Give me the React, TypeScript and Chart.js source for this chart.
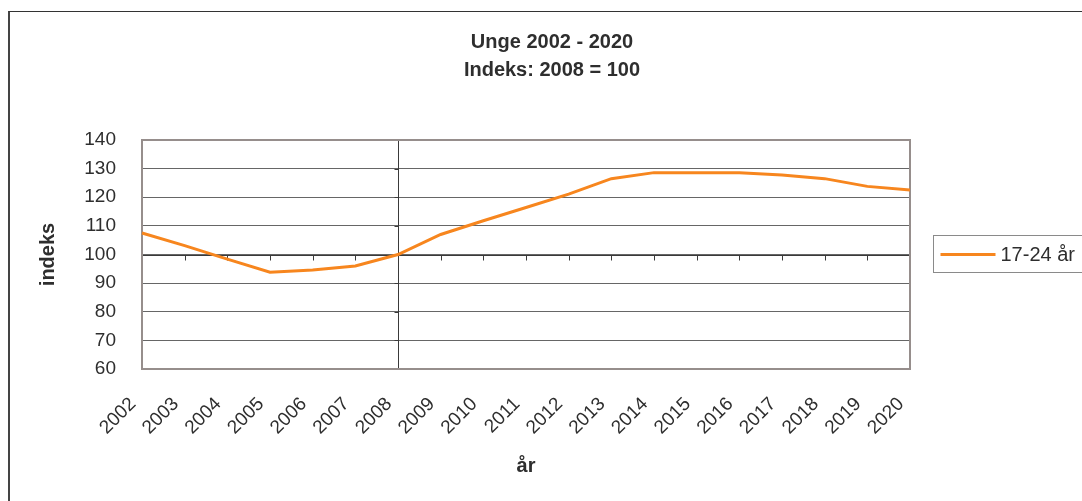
import React, { useEffect, useRef } from 'react';
import { Chart, registerables } from 'chart.js';

Chart.register(...registerables);

const years = ['2002', '2003', '2004', '2005', '2006', '2007', '2008', '2009', '2010', '2011', '2012', '2013', '2014', '2015', '2016', '2017', '2018', '2019', '2020'];
const indexValues = [107.5, 103.1, 98.4, 93.8, 94.6, 96.0, 100, 107.0, 111.8, 116.4, 121.1, 126.5, 128.6, 128.6, 128.6, 127.8, 126.5, 123.8, 122.5];
const seriesLabel = '17-24 år';
const titleLines = ['Unge 2002 - 2020', 'Indeks: 2008 = 100'];
const yAxisTitle = 'indeks';
const xAxisTitle = 'år';
const yMin = 60;
const yMax = 140;
const yStep = 10;
const baseYear = '2008';
const baseValue = 100;

const FONT = '"Liberation Sans", Arial, Helvetica, sans-serif';
const ORANGE = '#f7861e';
const TEXT = '#2e2e2e';

const excelFrame = {
  id: 'excelFrame',
  beforeDatasetsDraw(chart: any) {
    const { ctx, chartArea: a, scales } = chart;
    const x = scales.x;
    const y = scales.y;
    ctx.save();
    const y100 = Math.round(y.getPixelForValue(baseValue)) + 0.5;
    const xBase = Math.round(x.getPixelForValue(years.indexOf(baseYear))) + 0.5;
    ctx.strokeStyle = '#3a3a3a';
    ctx.lineWidth = 1;
    ctx.beginPath();
    ctx.moveTo(a.left, y100);
    ctx.lineTo(a.right, y100);
    for (let i = 0; i < years.length; i++) {
      const px = Math.round(x.getPixelForValue(i)) + 0.5;
      ctx.moveTo(px, y100);
      ctx.lineTo(px, y100 + 5);
    }
    ctx.moveTo(xBase, a.top);
    ctx.lineTo(xBase, a.bottom);
    y.ticks.forEach((t: any) => {
      const py = Math.round(y.getPixelForValue(t.value)) + 0.5;
      ctx.moveTo(xBase - 4, py);
      ctx.lineTo(xBase, py);
    });
    ctx.stroke();
    ctx.strokeStyle = '#968e8c';
    ctx.lineWidth = 2;
    ctx.strokeRect(a.left, a.top, a.right - a.left, a.bottom - a.top);
    ctx.restore();
  },
  afterDraw(chart: any) {
    const { ctx, chartArea: a } = chart;
    const ds = chart.data.datasets[0];
    const left = Math.round(a.right) + 23.5;
    const midY = Math.round(chart.scales.y.getPixelForValue(baseValue)) - 0.5;
    ctx.save();
    ctx.strokeStyle = '#8a8a8a';
    ctx.lineWidth = 1;
    ctx.strokeRect(left, midY - 19, 300, 37);
    ctx.strokeStyle = ds.borderColor;
    ctx.lineWidth = 3;
    ctx.beginPath();
    ctx.moveTo(left + 7, midY);
    ctx.lineTo(left + 62, midY);
    ctx.stroke();
    ctx.fillStyle = TEXT;
    ctx.font = `20px ${FONT}`;
    ctx.textBaseline = 'middle';
    ctx.textAlign = 'left';
    ctx.fillText(ds.label, left + 67, midY + 1);
    ctx.restore();
  },
};

export default function App() {
  const canvasRef = useRef<HTMLCanvasElement | null>(null);

  useEffect(() => {
    const canvas = canvasRef.current;
    if (!canvas) return;
    const chart = new Chart(canvas, {
      type: 'line',
      data: {
        labels: years,
        datasets: [
          {
            label: seriesLabel,
            data: indexValues,
            borderColor: ORANGE,
            backgroundColor: ORANGE,
            borderWidth: 3,
            pointRadius: 0,
            pointHoverRadius: 0,
            tension: 0,
            fill: false,
            yAxisID: 'y',
          },
        ],
      },
      options: {
        responsive: false,
        animation: false,
        devicePixelRatio: 1,
        layout: { padding: { left: 0, top: 0, right: 0, bottom: 10 } },
        plugins: {
          legend: { display: false },
          tooltip: { enabled: false },
          title: {
            display: true,
            text: titleLines,
            color: TEXT,
            font: { family: FONT, size: 20, weight: 'bold', lineHeight: 1.4 },
            padding: { top: 16, bottom: 56 },
          },
        },
        scales: {
          x: {
            offset: false,
            grid: { display: false, drawTicks: false },
            border: { display: false },
            ticks: {
              autoSkip: false,
              maxRotation: 45,
              minRotation: 45,
              padding: 24,
              labelOffset: -9,
              color: TEXT,
              font: { family: FONT, size: 19 },
            },
            title: {
              display: true,
              text: xAxisTitle,
              color: TEXT,
              font: { family: FONT, size: 20, weight: 'bold' },
              padding: { top: 0, bottom: 13 },
            },
            afterFit(scale: any) {
              scale.height = 122;
            },
          },
          y: {
            min: yMin,
            max: yMax,
            grid: { color: '#666666', lineWidth: 1, drawTicks: false },
            border: { display: false },
            ticks: {
              stepSize: yStep,
              padding: 26,
              color: TEXT,
              font: { family: FONT, size: 19 },
            },
            title: {
              display: true,
              text: yAxisTitle,
              color: TEXT,
              font: { family: FONT, size: 20, weight: 'bold' },
              padding: { top: 26, bottom: 0 },
            },
            afterFit(scale: any) {
              scale.width = 132;
            },
          },
          legendSpace: {
            type: 'linear',
            position: 'right',
            min: yMin,
            max: yMax,
            grid: { display: false, drawTicks: false },
            border: { display: false },
            ticks: { display: false },
            afterFit(scale: any) {
              scale.width = 184;
            },
          },
        },
      },
      plugins: [excelFrame],
    } as any);
    return () => chart.destroy();
  }, []);

  return (
    <div
      style={{
        position: 'absolute',
        left: 8,
        top: 11,
        width: 1072,
        height: 489,
        borderLeft: '2px solid #444',
        borderTop: '1px solid #333',
        overflow: 'hidden',
        background: '#fff',
      }}
    >
      <canvas ref={canvasRef} width={1084} height={489} style={{ display: 'block', width: 1084, height: 489 }} />
    </div>
  );
}
